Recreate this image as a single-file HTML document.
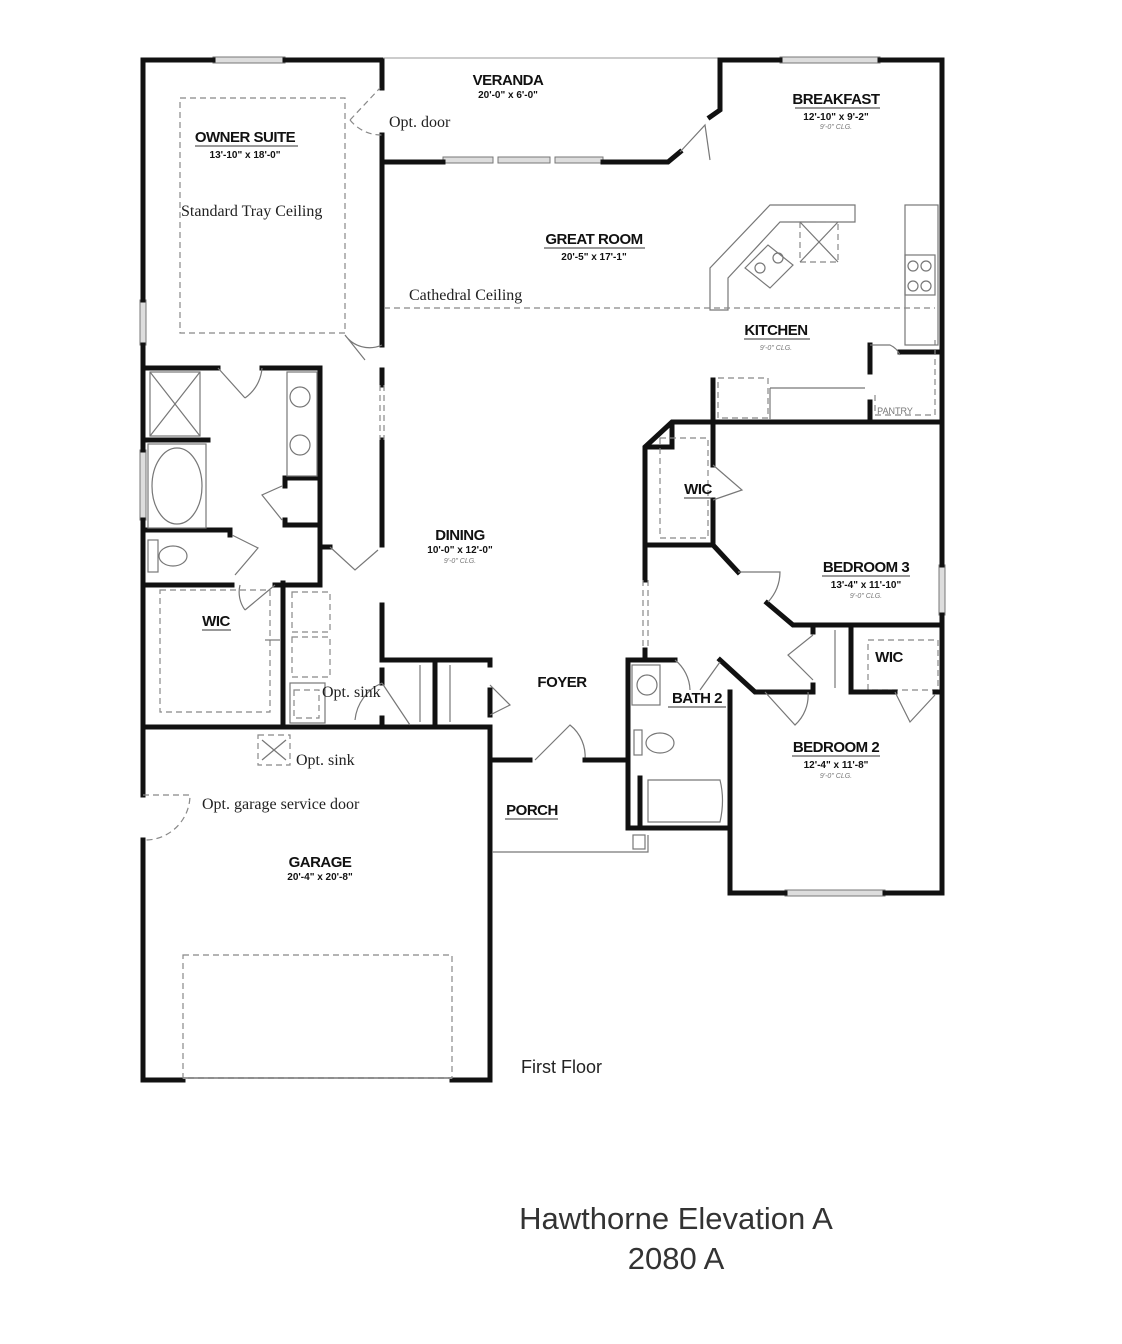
<!DOCTYPE html>
<html><head><meta charset="utf-8"><style>
html,body{margin:0;padding:0;background:#fff}
svg{display:block}
.w{stroke:#111;stroke-width:5;fill:none;stroke-linecap:square}
.t{stroke:#777;stroke-width:1.2;fill:none}
.d{stroke:#888;stroke-width:1.2;fill:none;stroke-dasharray:6 4}
.win{fill:#ddd;stroke:#777;stroke-width:1}
.lb{font-family:"Liberation Sans",sans-serif;font-weight:bold;font-size:15px;fill:#111;text-anchor:middle;letter-spacing:-0.5px}
.sz{font-family:"Liberation Sans",sans-serif;font-weight:bold;font-size:10px;fill:#111;text-anchor:middle}
.cl{font-family:"Liberation Sans",sans-serif;font-size:7px;fill:#777;text-anchor:middle;font-style:italic}
.sr{font-family:"Liberation Serif",serif;font-size:16px;fill:#222}
</style></head><body>
<svg width="1122" height="1344" viewBox="0 0 1122 1344" xmlns="http://www.w3.org/2000/svg">
<rect class="win" x="213" y="57" width="72" height="6"/>
<rect class="win" x="443" y="157" width="50" height="6"/><rect class="win" x="498" y="157" width="52" height="6"/><rect class="win" x="555" y="157" width="48" height="6"/>
<rect class="win" x="780" y="57" width="100" height="6"/>
<rect class="win" x="140" y="300" width="6" height="45"/>
<rect class="win" x="140" y="450" width="6" height="70"/>
<rect class="win" x="939" y="565" width="6" height="50"/>
<rect class="win" x="785" y="890" width="100" height="6"/>
<polyline class="w" points="143,60 213,60"/><polyline class="w" points="285,60 382,60 382,88"/>
<polyline class="w" points="143,60 143,300"/><polyline class="w" points="143,345 143,450"/><polyline class="w" points="143,520 143,795"/><polyline class="w" points="143,840 143,1080 183,1080"/>
<polyline class="w" points="452,1080 490,1080 490,728"/>
<line x1="183" y1="1078" x2="452" y2="1078" stroke="#999" stroke-width="2"/>
<line x1="383" y1="58" x2="720" y2="58" stroke="#999" stroke-width="1"/>
<polyline class="w" points="382,162 443,162"/><polyline class="w" points="603,162 668,162 680,152"/>
<polyline class="w" points="710,117 720,110 720,60 780,60"/><polyline class="w" points="880,60 942,60 942,565"/><polyline class="w" points="942,615 942,893 885,893"/><polyline class="w" points="785,893 730,893 730,692"/>
<polyline class="w" points="382,135 382,345"/><polyline class="w" points="382,370 382,385"/><polyline class="w" points="382,440 382,545"/><polyline class="w" points="382,605 382,660 490,660 490,665"/>
<line class="d" x1="380" y1="385" x2="380" y2="440"/><line class="d" x1="384" y1="385" x2="384" y2="440"/>
<polyline class="w" points="143,368 218,368"/><polyline class="w" points="262,368 320,368 320,583"/>
<polyline class="w" points="143,440 208,440"/><polyline class="w" points="143,530 230,530 230,535"/><polyline class="w" points="143,585 232,585"/><polyline class="w" points="275,585 320,585"/>
<polyline class="w" points="285,478 320,478"/><polyline class="w" points="285,478 285,486"/><polyline class="w" points="285,520 285,525 320,525"/>
<polyline class="w" points="320,547 330,547"/>
<polyline class="w" points="283,583 283,727"/>
<polyline class="w" points="143,727 490,727"/>
<polyline class="w" points="382,670 382,683"/><polyline class="w" points="382,718 382,727"/><polyline class="w" points="435,660 435,727"/>
<polyline class="w" points="490,690 490,715"/>
<rect class="t" x="150" y="372" width="50" height="64"/><line class="t" x1="150" y1="372" x2="200" y2="436"/><line class="t" x1="200" y1="372" x2="150" y2="436"/>
<rect class="t" x="148" y="444" width="58" height="84"/><ellipse class="t" cx="177" cy="486" rx="25" ry="38"/>
<rect class="t" x="287" y="372" width="30" height="104"/><circle class="t" cx="300" cy="397" r="10"/><circle class="t" cx="300" cy="445" r="10"/>
<rect class="t" x="148" y="540" width="10" height="32"/><ellipse class="t" cx="173" cy="556" rx="14" ry="10"/>
<rect class="d" x="160" y="590" width="110" height="122"/><line class="t" x1="265" y1="640" x2="280" y2="640"/>
<rect class="d" x="292" y="592" width="38" height="40"/><rect class="d" x="292" y="637" width="38" height="40"/><rect class="t" x="290" y="683" width="35" height="40"/><rect class="d" x="294" y="690" width="25" height="28"/>
<path class="t" d="M218,368 L245,398 M262,368 A40,40 0 0 1 245,398"/>
<path class="t" d="M345,335 L365,360 M345,335 A30,30 0 0 0 382,345"/>
<path class="t" d="M282,486 L262,495 L282,520 M262,495"/>
<path class="t" d="M232,535 L258,548 L235,575"/>
<path class="t" d="M275,585 L245,610 M240,585 A30,30 0 0 0 245,610"/>
<path class="t" d="M330,547 L355,570 L378,550"/>
<path class="d" d="M350,120 L380,88 M350,120 A40,40 0 0 0 382,135"/>
<path class="t" d="M680,152 L705,125 L710,160"/>
<path class="t" d="M382,683 L410,725 M355,720 A45,45 0 0 1 382,683"/>
<path class="t" d="M490,685 L510,705 L490,715"/>
<path class="t" d="M535,760 L570,725 A40,40 0 0 1 585,760"/>
<path class="d" d="M143,795 L190,795 A45,45 0 0 1 143,840"/>
<line class="t" x1="420" y1="665" x2="420" y2="722"/><line class="t" x1="450" y1="665" x2="450" y2="722"/>
<rect class="d" x="183" y="955" width="269" height="123"/>
<rect class="d" x="258" y="735" width="32" height="30"/><line class="t" x1="262" y1="740" x2="286" y2="760"/><line class="t" x1="286" y1="740" x2="262" y2="760"/>
<polyline class="w" points="490,760 530,760"/><polyline class="w" points="585,760 628,760"/>
<polyline class="t" points="492,852 648,852 648,835"/><rect class="t" x="633" y="835" width="12" height="14"/>
<polyline class="w" points="628,828 628,660 675,660"/><polyline class="w" points="720,660 755,692 808,692"/><polyline class="w" points="628,828 730,828"/>
<polyline class="w" points="640,778 640,828"/>
<rect class="t" x="632" y="665" width="28" height="40"/><circle class="t" cx="647" cy="685" r="10"/>
<rect class="t" x="634" y="730" width="8" height="25"/><ellipse class="t" cx="660" cy="743" rx="14" ry="10"/>
<path class="t" d="M648,780 L720,780 Q725,800 720,822 L648,822 Z"/>
<path class="t" d="M675,660 A40,40 0 0 1 690,690 M700,690 L720,662"/>
<polyline class="w" points="645,580 645,447 672,422 942,422"/>
<polyline class="w" points="645,650 645,660"/>
<line class="d" x1="643" y1="580" x2="643" y2="650"/><line class="d" x1="648" y1="580" x2="648" y2="650"/>
<polyline class="w" points="648,447 672,447 672,425"/>
<polyline class="w" points="713,422 713,465"/><polyline class="w" points="713,500 713,545 648,545"/><polyline class="w" points="713,545 738,572"/>
<polyline class="w" points="767,603 793,625 942,625"/>
<path class="t" d="M738,572 L780,572 A45,45 0 0 1 768,602"/>
<path class="t" d="M713,465 L742,490 L713,500"/>
<rect class="d" x="660" y="438" width="48" height="100"/>
<polyline class="w" points="813,625 813,632"/><polyline class="w" points="813,685 813,692"/><polyline class="w" points="851,625 851,692"/>
<line class="t" x1="835" y1="630" x2="835" y2="688"/>
<path class="t" d="M813,635 L788,655 L813,680"/>
<rect class="d" x="868" y="640" width="70" height="50"/>
<polyline class="w" points="851,692 895,692"/><polyline class="w" points="935,692 942,692"/>
<path class="t" d="M765,692 L795,725 A40,40 0 0 0 808,692 M895,692 L910,722 L935,695"/>
<polyline class="w" points="870,422 870,402"/><polyline class="w" points="870,372 870,345"/><polyline class="w" points="900,352 942,352"/>
<path class="t" d="M870,345 L890,345 A20,20 0 0 1 900,355"/>
<polyline class="d" points="875,395 875,415 935,415 935,340"/>
<polyline class="w" points="713,380 713,422"/>
<rect class="d" x="718" y="378" width="50" height="40"/><line class="t" x1="770" y1="388" x2="865" y2="388"/><line class="t" x1="770" y1="388" x2="770" y2="420"/>
<path class="t" d="M710,310 L710,268 L770,205 L855,205 L855,222 L780,222 L728,278 L728,310 Z"/>
<rect class="d" x="800" y="222" width="38" height="40"/><line class="t" x1="800" y1="222" x2="838" y2="262"/><line class="t" x1="838" y1="222" x2="800" y2="262"/>
<path class="t" d="M745,268 L768,245 L793,265 L770,288 Z"/><circle class="t" cx="760" cy="268" r="5"/><circle class="t" cx="778" cy="258" r="5"/>
<rect class="t" x="905" y="205" width="33" height="140"/><rect class="t" x="905" y="255" width="30" height="40"/>
<circle class="t" cx="913" cy="266" r="5"/><circle class="t" cx="926" cy="266" r="5"/><circle class="t" cx="913" cy="286" r="5"/><circle class="t" cx="926" cy="286" r="5"/>
<rect class="d" x="180" y="98" width="165" height="235"/>
<line class="d" x1="384" y1="308" x2="935" y2="308"/>
<text class="lb" x="508" y="85">VERANDA</text><text class="sz" x="508" y="98">20'-0" x 6'-0"</text>
<text class="sr" x="389" y="127">Opt. door</text>
<text class="lb" x="836" y="104">BREAKFAST</text><line x1="795" y1="108" x2="880" y2="108" stroke="#333"/><text class="sz" x="836" y="120">12'-10" x 9'-2"</text><text class="cl" x="836" y="129">9'-0" CLG.</text>
<text class="lb" x="245" y="142">OWNER SUITE</text><line x1="195" y1="146" x2="298" y2="146" stroke="#333"/><text class="sz" x="245" y="158">13'-10" x 18'-0"</text>
<text class="sr" x="181" y="216">Standard Tray Ceiling</text>
<text class="lb" x="594" y="244">GREAT ROOM</text><line x1="544" y1="248" x2="645" y2="248" stroke="#333"/><text class="sz" x="594" y="260">20'-5" x 17'-1"</text>
<text class="sr" x="409" y="300">Cathedral Ceiling</text>
<text class="lb" x="776" y="335">KITCHEN</text><line x1="744" y1="339" x2="810" y2="339" stroke="#333"/><text class="cl" x="776" y="350">9'-0" CLG.</text>
<text class="cl" x="895" y="414" style="font-size:9px;font-style:normal">PANTRY</text>
<text class="lb" x="698" y="494">WIC</text><line x1="684" y1="498" x2="712" y2="498" stroke="#333"/>
<text class="lb" x="460" y="540">DINING</text><text class="sz" x="460" y="553">10'-0" x 12'-0"</text><text class="cl" x="460" y="563">9'-0" CLG.</text>
<text class="lb" x="866" y="572">BEDROOM 3</text><line x1="822" y1="576" x2="910" y2="576" stroke="#333"/><text class="sz" x="866" y="588">13'-4" x 11'-10"</text><text class="cl" x="866" y="598">9'-0" CLG.</text>
<text class="lb" x="216" y="626">WIC</text><line x1="202" y1="630" x2="231" y2="630" stroke="#333"/>
<text class="lb" x="889" y="662">WIC</text>
<text class="lb" x="562" y="687">FOYER</text>
<text class="lb" x="697" y="703">BATH 2</text><line x1="668" y1="707" x2="726" y2="707" stroke="#333"/>
<text class="sr" x="322" y="697">Opt. sink</text>
<text class="lb" x="836" y="752">BEDROOM 2</text><line x1="792" y1="756" x2="880" y2="756" stroke="#333"/><text class="sz" x="836" y="768">12'-4" x 11'-8"</text><text class="cl" x="836" y="778">9'-0" CLG.</text>
<text class="sr" x="296" y="765">Opt. sink</text>
<text class="sr" x="202" y="809">Opt. garage service door</text>
<text class="lb" x="532" y="815">PORCH</text><line x1="505" y1="819" x2="558" y2="819" stroke="#333"/>
<text class="lb" x="320" y="867">GARAGE</text><text class="sz" x="320" y="880">20'-4" x 20'-8"</text>
<text class="sr" x="521" y="1073" style="font-family:'Liberation Sans',sans-serif;font-size:18px">First Floor</text>
<text x="676" y="1229" style="font-family:'Liberation Sans',sans-serif;font-size:31px;fill:#333;text-anchor:middle">Hawthorne Elevation A</text>
<text x="676" y="1269" style="font-family:'Liberation Sans',sans-serif;font-size:31px;fill:#333;text-anchor:middle">2080 A</text>
</svg>
</body></html>
